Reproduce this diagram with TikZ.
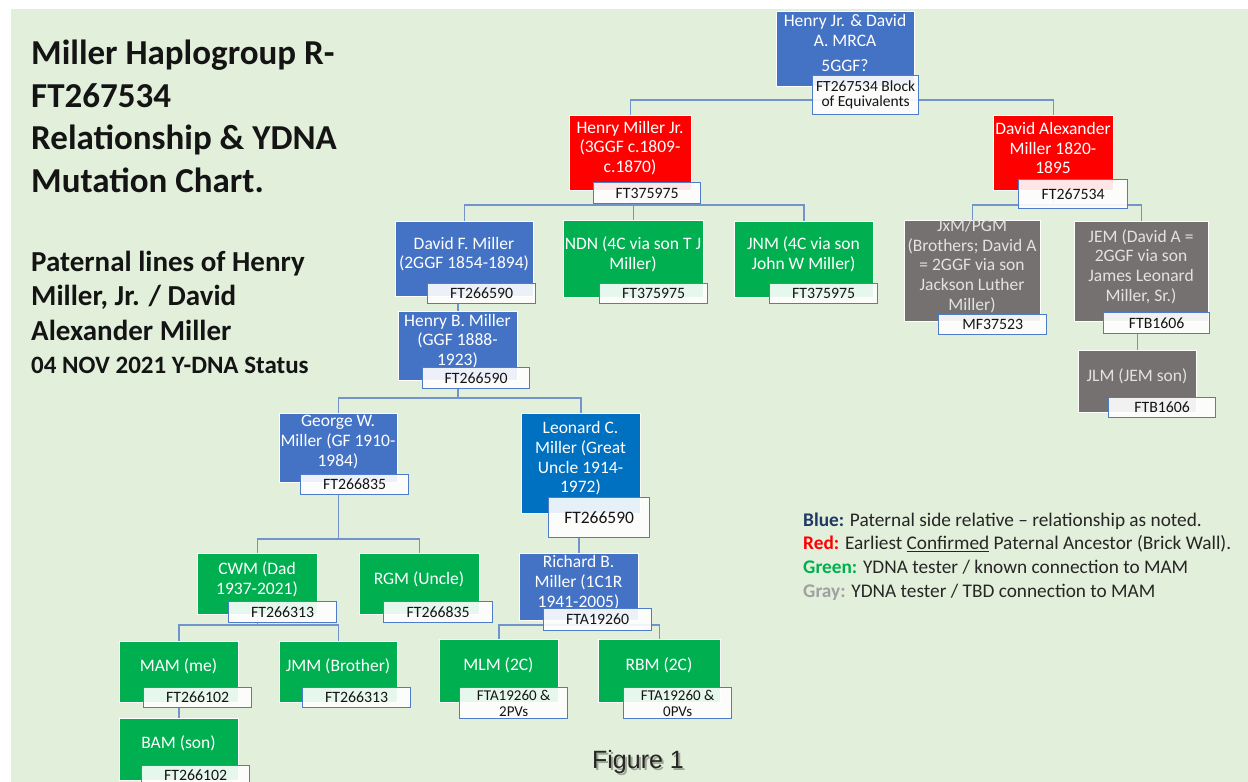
\documentclass[tikz,border=0pt]{standalone}
\usepackage{fontspec}
\setmainfont{Carlito}
\newfontfamily\arialfont{Liberation Sans}
\usetikzlibrary{calc}

\definecolor{bgGreen}{HTML}{E2EFDA}
\definecolor{boxBlue}{HTML}{4472C4}
\definecolor{boxDeep}{HTML}{0070C0}
\definecolor{boxRed}{HTML}{FF0000}
\definecolor{boxGreen}{HTML}{00B050}
\definecolor{boxGray}{HTML}{767171}
\definecolor{grayInk}{HTML}{E2E2E2}
\definecolor{tagEdge}{HTML}{4F7BCB}
\definecolor{linkC}{HTML}{7393CC}
\definecolor{inkC}{HTML}{141414}
\definecolor{legBlue}{HTML}{1F3864}
\definecolor{legRed}{HTML}{FF0000}
\definecolor{legGreen}{HTML}{00B050}
\definecolor{legGray}{HTML}{A0A0A0}
\definecolor{legInk}{HTML}{262626}

\pgfdeclarelayer{back}
\pgfdeclarelayer{links}
\pgfsetlayers{back,links,main}

\tikzset{
  memberbox/.style={draw=white, line width=0.7pt, inner sep=0pt},
  blue fill/.style={fill=boxBlue},
  deep fill/.style={fill=boxDeep},
  red fill/.style={fill=boxRed},
  green fill/.style={fill=boxGreen},
  gray fill/.style={fill=boxGray},
  blue ink/.style={text=white},
  deep ink/.style={text=white},
  red ink/.style={text=white},
  green ink/.style={text=white},
  gray ink/.style={text=grayInk},
  membertext/.style={align=center, inner sep=0pt, font=\fontsize{17.5}{19.7}\selectfont},
  tagbox/.style={draw=tagEdge, line width=1.3pt, fill=white, fill opacity=0.9,
    text opacity=1, text=inkC, inner sep=0pt, align=center,
    font=\fontsize{15.8}{16}\selectfont},
  link/.style={draw=linkC, line width=1.5pt},
}

% #1 colour family, #2 name, #3-#6 corners (x0,y0,x1,y1), #7 text centre y, #8 text
\newcommand\member[8]{%
  \node[memberbox, #1 fill, anchor=north west,
        minimum width={(#5-#3)*1pt}, minimum height={(#6-#4)*1pt}] (#2) at (#3,#4) {};
  \node[membertext, #1 ink] (#2-t) at ({(#3+#5)/2},#7) {#8};}

% #1 extra keys, #2 name, #3-#6 corners, #7 text
\newcommand\idtag[7][]{%
  \node[tagbox, anchor=north west, #1,
        minimum width={(#5-#3)*1pt}, minimum height={(#6-#4)*1pt}] (#2) at (#3,#4) {#7};}

\begin{document}
\begin{tikzpicture}[x=1pt, y=-1pt]
\clip (0,0) rectangle (1248,782);
\begin{pgfonlayer}{back}
  \fill[white] (0,0) rectangle (1248,782);
  \fill[bgGreen] (11,9) rectangle (1248,782);
\end{pgfonlayer}

% ---- headings (anchored on the baseline of their last line) ----
\node[anchor=base west, align=left, inner sep=0pt, text=inkC,
      font=\bfseries\fontsize{35}{42.4}\selectfont] (title) at (31,192)
  {Miller Haplogroup R-\\FT267534\\Relationship \& YDNA\\Mutation Chart.};
\node[anchor=base west, align=left, inner sep=0pt, text=inkC,
      font=\bfseries\fontsize{29}{34.5}\selectfont] (lines) at (31,340)
  {Paternal lines of Henry\\Miller, Jr. / David\\Alexander Miller};
\node[anchor=base west, inner sep=0pt, text=inkC,
      font=\bfseries\fontsize{25}{26}\selectfont] (status) at (31,373)
  {04 NOV 2021 Y-DNA Status};

% ---- family boxes ----
\member{blue}{mrca}{776}{11}{914}{86}{43}{Henry Jr. \& David\\A. MRCA\\[5pt]5GGF?}
\member{red}{hj}{569}{115}{691}{190}{148}{Henry Miller Jr.\\(3GGF c.1809-\\c.1870)}
\member{red}{da}{993}{115}{1113}{190}{148}{David Alexander\\Miller 1820-\\1895}
\member{blue}{df}{395}{221}{533}{296}{254}{David F. Miller\\(2GGF 1854-1894)}
\member{green}{ndn}{563}{220}{703}{297}{254}{NDN (4C via son T J\\Miller)}
\member{green}{jnm}{734}{221}{873}{297}{254}{JNM (4C via son\\John W Miller)}
\member{gray}{jxm}{904}{220}{1040}{321}{266}{JxM/PGM\\(Brothers; David A\\= 2GGF via son\\Jackson Luther\\Miller)}
\member{gray}{jem}{1074}{221}{1208}{321}{266.5}{JEM (David A =\\2GGF via son\\James Leonard\\Miller, Sr.)}
\member{gray}{jlm}{1078}{350}{1196}{412}{376}{JLM (JEM son)}
\member{blue}{hb}{398}{311}{517}{380}{341}{Henry B. Miller\\(GGF 1888-\\1923)}
\member{blue}{gw}{279}{413}{397}{482}{442}{George W.\\Miller (GF 1910-\\1984)}
\member{deep}{lc}{521}{413}{640}{513}{458.5}{Leonard C.\\Miller (Great\\Uncle 1914-\\1972)}
\member{green}{cwm}{197}{553}{317}{614}{579}{CWM (Dad\\1937-2021)}
\member{green}{rgm}{359}{553}{479}{614}{579}{RGM (Uncle)}
\member{blue}{rb}{519}{553}{638}{620}{582.5}{Richard B.\\Miller (1C1R\\1941-2005)}
\member{green}{mam}{119}{641}{238}{702}{666}{MAM (me)}
\member{green}{jmm}{279}{641}{397}{702}{666}{JMM (Brother)}
\member{green}{mlm}{439}{639}{558}{702}{665}{MLM (2C)}
\member{green}{rbm}{598}{639}{720}{702}{665}{RBM (2C)}
\member{green}{bam}{119}{718}{238}{780}{743}{BAM (son)}

% ---- haplogroup tags ----
\idtag[font=\fontsize{15.5}{15}\selectfont]{mrcaT}{812}{75}{918}{114}{FT267534 Block\\of Equivalents}
\idtag{hjT}{593}{182}{700}{203}{FT375975}
\idtag{daT}{1018}{179}{1127}{208}{FT267534}
\idtag{dfT}{427}{283}{535}{303}{FT266590}
\idtag{ndnT}{599}{283}{707}{303}{FT375975}
\idtag{jnmT}{769}{283}{877}{303}{FT375975}
\idtag{jxmT}{938}{314}{1046}{334}{MF37523}
\idtag{jemT}{1103}{312}{1209}{333}{FTB1606}
\idtag{jlmT}{1108}{397}{1215}{417}{FTB1606}
\idtag{hbT}{422}{367}{529}{388}{FT266590}
\idtag{gwT}{300}{474}{408}{494}{FT266835}
\idtag[font=\fontsize{17.5}{18}\selectfont]{lcT}{548}{497}{649}{537}{FT266590}
\idtag{cwmT}{228}{601}{336}{622}{FT266313}
\idtag{rgmT}{383}{601}{492}{622}{FT266835}
\idtag{rbT}{543}{608}{651}{630}{FTA19260}
\idtag{mamT}{143}{687}{251}{707}{FT266102}
\idtag{jmmT}{302}{687}{410}{707}{FT266313}
\idtag[font=\fontsize{15}{16}\selectfont]{mlmT}{459}{687}{567}{718}{FTA19260 \&\\2PVs}
\idtag[font=\fontsize{15}{16}\selectfont]{rbmT}{623}{687}{731}{718}{FTA19260 \&\\0PVs}
\idtag{bamT}{141}{765}{249}{785}{FT266102}

% ---- connectors ----
\begin{pgfonlayer}{links}
  \draw[link] (hj.north) -- ++(0,-15) coordinate (barA) -| (da.north);
  \draw[link] (mrca.south) -- (mrca.south |- barA);
  \draw[link] (df.north) -- ++(0,-16) coordinate (barB) -| (jnm.north);
  \draw[link] (ndn.north) -- (ndn.north |- barB);
  \draw[link] (hj.south) -- (hj.south |- barB);
  \draw[link] (jxm.north) -- ++(0,-15) coordinate (barC) -| (jem.north);
  \draw[link] (da.south) -- (da.south |- barC);
  \draw[link] (dfT.south -| hb.north) -- (hb.north);
  \draw[link] (gw.north) -- ++(0,-15) coordinate (barD) -| (lc.north);
  \draw[link] (hbT.south -| hb.south) -- (hb.south |- barD);
  \draw[link] (cwm.north) -- ++(0,-14) coordinate (barE) -| (rgm.north);
  \draw[link] (gwT.south -| gw.south) -- (gw.south |- barE);
  \draw[link] (lcT.south -| rb.north) -- (rb.north);
  \draw[link] (mam.north) -- ++(0,-16) coordinate (barF) -| (jmm.north);
  \draw[link] (cwm.south) -- (cwm.south |- barF);
  \draw[link] (mlm.north) -- ++(0,-14) coordinate (barG) -| (rbm.north);
  \draw[link] (rb.south) -- (rb.south |- barG);
  \draw[link] (mamT.south -| bam.north) -- (bam.north);
  \draw[link] (jemT.south -| jlm.north) -- (jlm.north);
\end{pgfonlayer}

% ---- colour key (anchored on the baseline of its last line) ----
\node[anchor=base west, align=left, inner sep=0pt, text=legInk,
      font=\fontsize{19.3}{23.6}\selectfont] (key) at (803,597)
  {\textcolor{legBlue}{\textbf{Blue:}} Paternal side relative -- relationship as noted.\\
   \textcolor{legRed}{\textbf{Red:}} Earliest \underline{Confirmed} Paternal Ancestor (Brick Wall).\\
   \textcolor{legGreen}{\textbf{Green:}} YDNA tester / known connection to MAM\\
   \textcolor{legGray}{\textbf{Gray:}} YDNA tester / TBD connection to MAM};

% ---- caption with its soft shadow ----
\node[anchor=base, inner sep=0pt, text=black, opacity=0.3,
      font=\arialfont\fontsize{25}{25}\selectfont] (figshade) at (640,770.5) {Figure 1};
\node[anchor=base, inner sep=0pt, text=legInk,
      font=\arialfont\fontsize{25}{25}\selectfont] (fig) at (638,768) {Figure 1};
\end{tikzpicture}
\end{document}
